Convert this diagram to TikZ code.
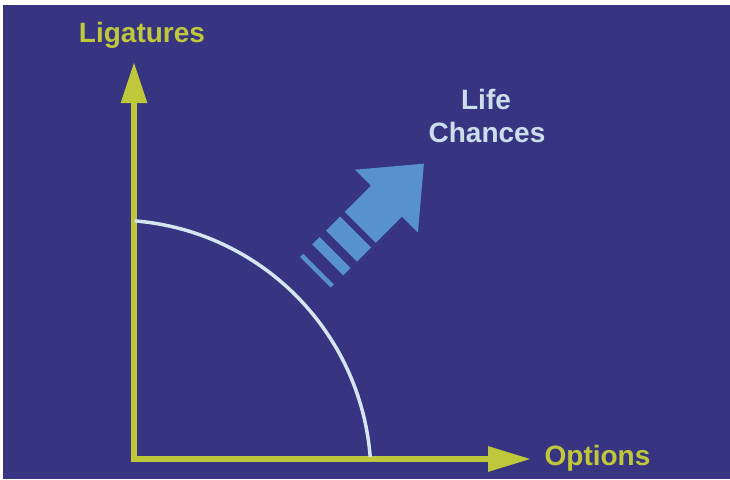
\documentclass[tikz,border=0pt]{standalone}
\usepackage{fontspec}
\setmainfont{Liberation Sans}
\usetikzlibrary{arrows.meta}
\definecolor{bgblue}{RGB}{55,52,130}
\definecolor{axisgreen}{RGB}{190,200,58}
\definecolor{arrowblue}{RGB}{88,146,206}
\definecolor{arcwhite}{RGB}{214,230,240}
\definecolor{lctext}{RGB}{204,222,236}
\tikzset{
  axisline/.style={draw=axisgreen, line width=6pt, line join=miter},
  axislabel/.style={text=axisgreen, font=\fontsize{28}{33}\selectfont\bfseries, inner sep=0pt, anchor=base},
  lclabel/.style={text=lctext, font=\fontsize{28}{33}\selectfont\bfseries, inner sep=0pt, anchor=base},
  arcline/.style={draw=arcwhite, line width=3.5pt},
  stripe/.style={fill=arrowblue},
}
\begin{document}
\begin{tikzpicture}[x=1pt,y=-1pt]
\useasboundingbox (0,0) rectangle (730,479);
\fill[white] (0,0) rectangle (730,479);
\fill[bgblue] (3.3,4.7) rectangle (730,479);

% axes
\coordinate (O) at (134,459);
\coordinate (ytip) at (134,62);
\coordinate (xtip) at (531,459);
\draw[axisline, {Triangle[length=41pt,width=25pt]}-{Triangle[length=43pt,width=24pt]}] (ytip) -- (O) -- (xtip);

% labels
\node[axislabel] (lig) at (142,42.7) {Ligatures};
\node[axislabel] (opt) at (597.5,465) {Options};
\node[lclabel] (life) at (486,109.3) {Life};
\node[lclabel] (chances) at (487,142.7) {Chances};

% arc
\coordinate (arcstart) at (135.06,220.9);
\draw[arcline] (arcstart) arc[start angle=274.7, end angle=355.5, radius=257];

% striped arrow in rotated frame (s along arrow, t across)
\begin{scope}[x={(0.70711pt,0.70711pt)}, y={(0.70711pt,-0.70711pt)}]
  \fill[stripe] (184,415.5) -- (131,460) -- (131,437.5) -- (94,437.5) -- (94,393.5) -- (131,393.5) -- (131,371) -- cycle;
  \fill[stripe] (67.4,393.5) -- (87.5,393.5) -- (87.5,437.5) -- (67.4,437.5) -- cycle;
  \fill[stripe] (48,393.5) -- (58.5,393.5) -- (58.5,437.5) -- (48,437.5) -- cycle;
  \fill[stripe] (30.5,394) -- (35,394) -- (35,437) -- (30.5,437) -- cycle;
\end{scope}
\end{tikzpicture}
\end{document}
